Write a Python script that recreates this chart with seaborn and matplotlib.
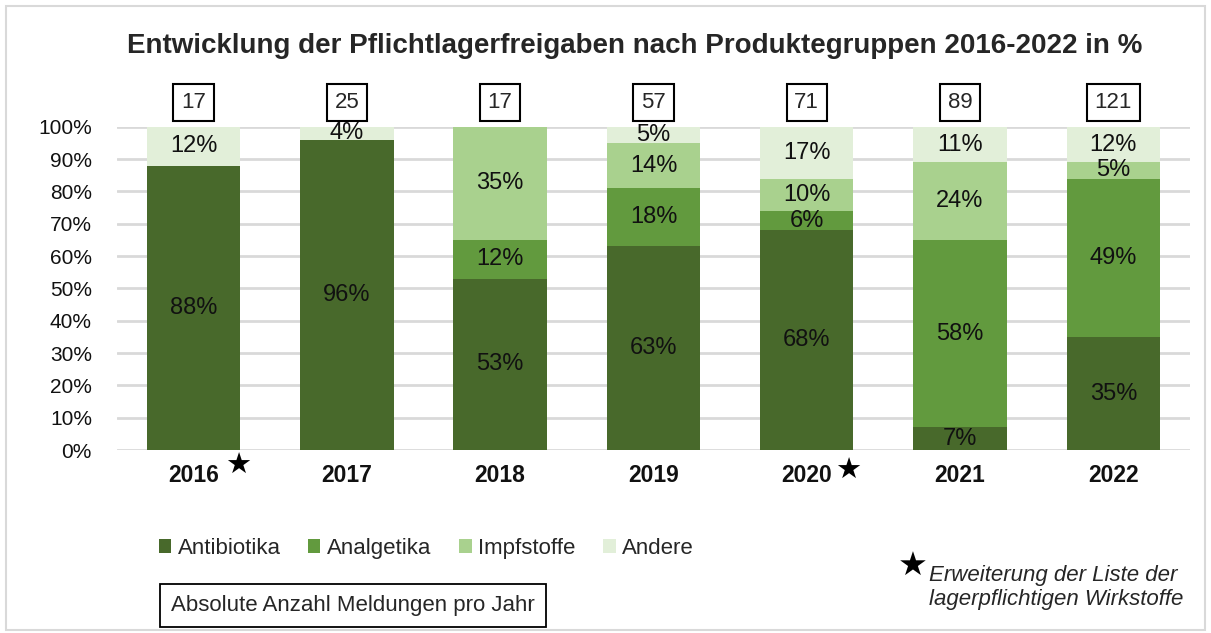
import numpy as np
import pandas as pd
import matplotlib.pyplot as plt
import seaborn as sns
from matplotlib.patches import Patch, Rectangle

sns.set_style("white")
plt.rcParams["font.family"] = ["Liberation Sans", "DejaVu Sans"]

years = ["2016", "2017", "2018", "2019", "2020", "2021", "2022"]
groups = ["Antibiotika", "Analgetika", "Impfstoffe", "Andere"]
antibiotika = [88, 96, 53, 63, 68, 7, 35]
analgetika = [0, 0, 12, 18, 6, 58, 49]
impfstoffe = [0, 0, 35, 14, 10, 24, 5]
andere = [12, 4, 0, 5, 17, 11, 12]
counts = [17, 25, 17, 57, 71, 89, 121]
star_years = ["2016", "2020"]
colors = ["#48692B", "#629A3E", "#A9D18E", "#E2EFD9"]

df = pd.DataFrame({"year": years, "Antibiotika": antibiotika, "Analgetika": analgetika,
                   "Impfstoffe": impfstoffe, "Andere": andere})
# stacked tops, capped at 100 (rounded values sum to 101 in some years)
cum = df[groups].cumsum(axis=1).clip(upper=100)

fig = plt.figure(figsize=(12.11, 6.33), dpi=100)
ax = fig.add_axes([0.0966, 0.289, 0.886, 0.5106])

# draw from top layer down so every segment sits on the one below
for g, c in reversed(list(zip(groups, colors))):
    sns.barplot(x=df["year"], y=cum[g], color=c, width=0.61, ax=ax, saturation=1,
                edgecolor="none", linewidth=0)

# segment labels
for i in range(len(years)):
    bottom = 0
    for g in groups:
        v = df[g].iloc[i]
        top = cum[g].iloc[i]
        if v > 0:
            ax.text(i, (bottom + top) / 2, f"{v}%", ha="center", va="center", fontsize=17, color="#111111")
        bottom = top

ax.set_xlim(-0.5, 6.5)
ax.set_ylim(0, 100)
ax.set_yticks(range(0, 101, 10))
ax.set_yticklabels([f"{t}%" for t in range(0, 101, 10)], fontsize=15, color="#111111")
ax.yaxis.grid(True, color="#D9D9D9", linewidth=2)
ax.set_axisbelow(True)
ax.tick_params(axis="both", length=0)
ax.tick_params(axis="y", pad=18)
ax.tick_params(axis="x", pad=10)
ax.set_xticks(range(len(years)))
ax.set_xticklabels(years, fontsize=16.5, fontweight="bold", color="#111111")
ax.set_xlabel("")
ax.set_ylabel("")
sns.despine(ax=ax, left=True, bottom=True)

# counts in boxes above bars
for i, n in enumerate(counts):
    ax.text(i, 107.5, str(n), ha="center", va="center", fontsize=16,
            bbox=dict(boxstyle="square,pad=0.35", fc="white", ec="black", lw=1.5), clip_on=False)

# stars next to years
for y, dx, dy in zip(star_years, [0.29, 0.27], [-5, -6.3]):
    i = years.index(y)
    ax.text(i + dx, dy, "★", ha="center", va="center", fontsize=21,
            family="DejaVu Sans", color="black", clip_on=False)

fig.suptitle("Entwicklung der Pflichtlagerfreigaben nach Produktegruppen 2016-2022 in %",
             x=0.524, y=0.927, va="center", fontsize=20, fontweight="bold")

handles = [Patch(facecolor=c, edgecolor="none") for c in colors]
fig.legend(handles, groups, loc="center", bbox_to_anchor=(0.352, 0.134), ncol=4, frameon=False,
           fontsize=16, handlelength=0.55, handleheight=0.55, handletextpad=0.3, columnspacing=1.25)

fig.text(0.2915, 0.043, "Absolute Anzahl Meldungen pro Jahr", ha="center", va="center", fontsize=16,
         bbox=dict(boxstyle="square,pad=0.5", fc="white", ec="black", lw=1.3))

fig.text(0.754, 0.106, "★", ha="center", va="center", fontsize=24, family="DejaVu Sans", color="black")
fig.text(0.767, 0.072, "Erweiterung der Liste der\nlagerpflichtigen Wirkstoffe", ha="left", va="center",
         fontsize=16, style="italic", linespacing=1.15,
         family=["Liberation Sans Narrow", "Liberation Sans"])

fig.patches.append(Rectangle((0.005, 0.005), 0.99, 0.985, transform=fig.transFigure,
                             fill=False, ec="#D9D9D9", lw=1.5))

plt.savefig("out.png", dpi=100)
plt.close()
